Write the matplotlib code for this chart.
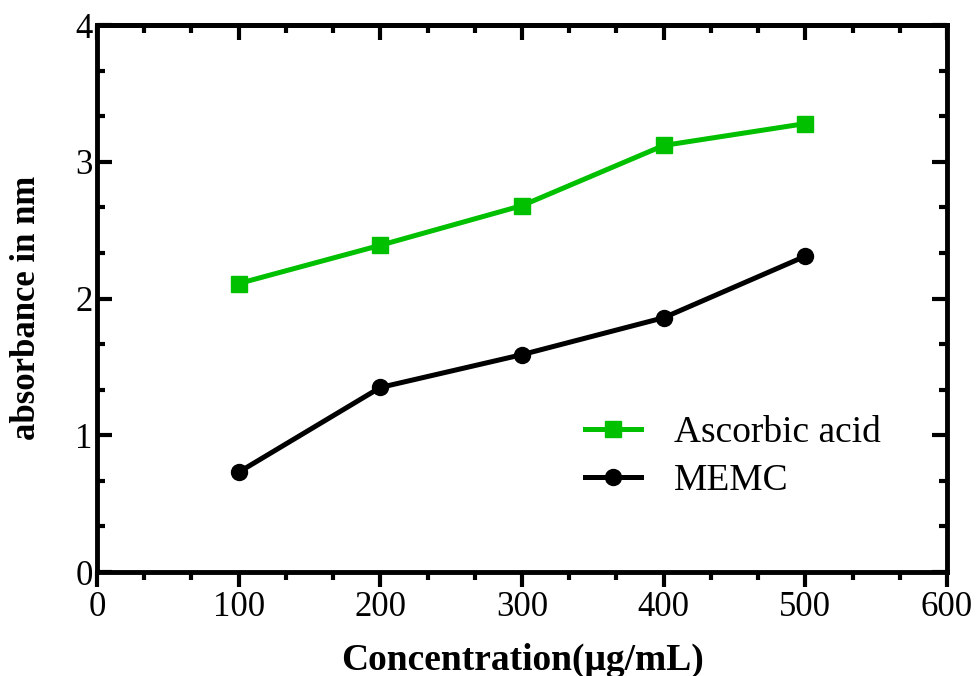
import matplotlib
matplotlib.use("Agg")
import matplotlib.pyplot as plt
from matplotlib.ticker import MultipleLocator

plt.rcParams['font.family'] = ['Liberation Serif', 'DejaVu Serif']

# Datos
concentration = [100, 200, 300, 400, 500]
ascorbic_acid = [2.11, 2.39, 2.68, 3.12, 3.28]
memc = [0.73, 1.35, 1.59, 1.86, 2.31]

fig = plt.figure(figsize=(9.77, 6.76), dpi=100)
ax = fig.add_axes([0.0993, 0.1538, 0.870, 0.809])

ax.plot(concentration, ascorbic_acid, color="#00c000", lw=3.6, marker="s",
        ms=11.5, label="Ascorbic acid")
ax.plot(concentration, memc, color="black", lw=3.6, marker="o",
        ms=11.5, label="MEMC")

ax.set_xlim(0, 600)
ax.set_ylim(0, 4)
ax.xaxis.set_major_locator(MultipleLocator(100))
ax.xaxis.set_minor_locator(MultipleLocator(100 / 3))
ax.yaxis.set_major_locator(MultipleLocator(1))
ax.yaxis.set_minor_locator(MultipleLocator(1 / 3))

for s in ax.spines.values():
    s.set_linewidth(3.5)

ax.tick_params(axis='x', which='both', direction='out', top=False, width=3, labelsize=25, pad=3)
ax.tick_params(axis='x', which='major', length=11)
ax.tick_params(axis='x', which='minor', length=6)
ax.tick_params(axis='y', which='both', direction='in', right=True, width=3, labelsize=25, pad=3)
ax.tick_params(axis='y', which='major', length=11)
ax.tick_params(axis='y', which='minor', length=6)

# Ticks superiores hacia dentro
top = ax.secondary_xaxis('top')
top.xaxis.set_major_locator(MultipleLocator(100))
top.xaxis.set_minor_locator(MultipleLocator(100 / 3))
top.tick_params(axis='x', which='both', direction='in', width=3, labeltop=False)
top.tick_params(axis='x', which='major', length=11)
top.tick_params(axis='x', which='minor', length=6)
top.spines['top'].set_linewidth(3.5)

ax.set_xlabel("Concentration(μg/mL)", fontsize=27, fontweight='bold', labelpad=13)
ax.set_ylabel("absorbance in nm", fontsize=25, fontweight='bold')
ax.yaxis.set_label_coords(-0.064, 0.483)

ax.legend(loc='upper left', bbox_to_anchor=(0.552, 0.32), frameon=False, fontsize=27,
          handlelength=1.49, handletextpad=0.88, labelspacing=0.35, borderpad=0)

fig.savefig("out.png", dpi=100)
